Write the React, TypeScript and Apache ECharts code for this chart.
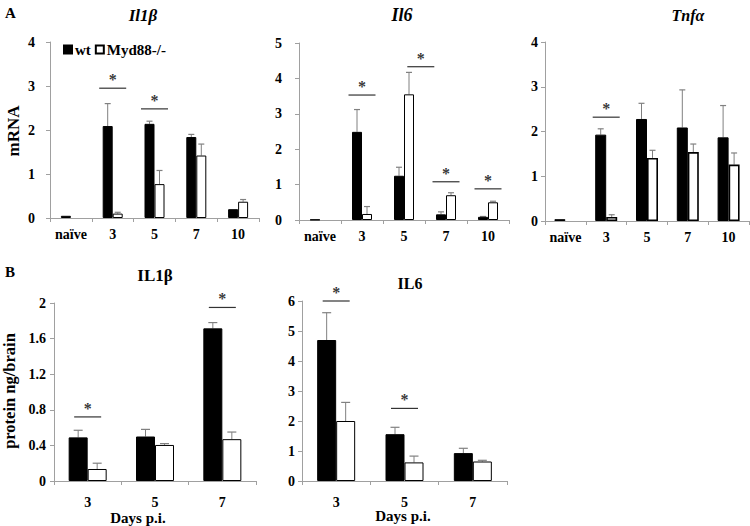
import React, { useEffect, useRef } from "react";
import * as echarts from "echarts";

// ---- data ----
const catsA = ["naïve", "3", "5", "7", "10"];
const catsB = ["3", "5", "7"];

const il1bWt = [0.05, 2.09, 2.14, 1.84, 0.2];
const il1bWtSd = [0, 0.51, 0.06, 0.06, 0];
const il1bKo = [null, 0.1, 0.77, 1.42, 0.37];
const il1bKoSd = [0, 0.03, 0.31, 0.26, 0.05];

const il6Wt = [0.01, 2.49, 1.25, 0.16, 0.09];
const il6WtSd = [0, 0.63, 0.24, 0.07, 0.01];
const il6Ko = [null, 0.17, 3.55, 0.7, 0.5];
const il6KoSd = [0, 0.21, 0.62, 0.07, 0.03];

const tnfWt = [0.04, 1.93, 2.28, 2.09, 1.87];
const tnfWtSd = [0, 0.13, 0.35, 0.84, 0.71];
const tnfKo = [null, 0.09, 1.41, 1.54, 1.26];
const tnfKoSd = [0, 0.05, 0.17, 0.18, 0.26];

const il1bPWt = [0.49, 0.5, 1.715];
const il1bPWtSd = [0.08, 0.08, 0.065];
const il1bPKo = [0.135, 0.405, 0.47];
const il1bPKoSd = [0.065, 0.015, 0.08];

const il6PWt = [4.7, 1.56, 0.93];
const il6PWtSd = [0.91, 0.23, 0.16];
const il6PKo = [2.0, 0.62, 0.65];
const il6PKoSd = [0.62, 0.21, 0.04];

// significance markers: [category index, line level, shift in bands]
const sigIl1b = [[1, 2.95, 0], [2, 2.48, 0]];
const sigIl6 = [[1, 3.53, 0], [2, 4.33, 0.4], [3, 1.08, 0], [4, 0.88, 0]];
const sigTnf = [[1, 2.32, 0]];
const sigIl1bP = [[0, 0.72, 0], [2, 1.95, 0]];
const sigIl6P = [[0, 6.0, 0], [1, 2.42, 0]];

const FONT = "'Liberation Serif', 'Times New Roman', serif";
const AXIS_COLOR = "#a0a0a0";
const ERR_COLOR = "#808080";

export default function App() {
  const ref = useRef<HTMLDivElement>(null);

  useEffect(() => {
    if (!ref.current) return;
    const chart = echarts.init(ref.current, null, { renderer: "svg" });

    const panels = [
      { left: 50, top: 42, width: 209, height: 176, cats: catsA, max: 4, interval: 1, margin: 15, bw: 10, cap: 6, wt: il1bWt, wtSd: il1bWtSd, ko: il1bKo, koSd: il1bKoSd, sig: sigIl1b, koBorder: 1, labelMargin: 9, sigW: 27 },
      { left: 299, top: 43, width: 210, height: 177, cats: catsA, max: 5, interval: 1, margin: 17, bw: 10, cap: 6, wt: il6Wt, wtSd: il6WtSd, ko: il6Ko, koSd: il6KoSd, sig: sigIl6, koBorder: 1, labelMargin: 9, sigW: 27 },
      { left: 545, top: 42, width: 204, height: 179, cats: catsA, max: 4, interval: 1, margin: 7, bw: 11, cap: 6, wt: tnfWt, wtSd: tnfWtSd, ko: tnfKo, koSd: tnfKoSd, sig: sigTnf, koBorder: 1.6, labelMargin: 9, sigW: 27 },
      { left: 54, top: 303, width: 202, height: 178, cats: catsB, max: 2, interval: 0.4, margin: 8, bw: 19, cap: 9, wt: il1bPWt, wtSd: il1bPWtSd, ko: il1bPKo, koSd: il1bPKoSd, sig: sigIl1bP, koBorder: 1, labelMargin: 14, sigW: 27 },
      { left: 302, top: 301, width: 205, height: 180, cats: catsB, max: 6, interval: 1, margin: 7, bw: 19, cap: 9, wt: il6PWt, wtSd: il6PWtSd, ko: il6PKo, koSd: il6PKoSd, sig: sigIl6P, koBorder: 1, labelMargin: 14, sigW: 27 },
    ];

    const labelStyle = { fontFamily: FONT, fontWeight: "bold" as const, fontSize: 14, color: "#000" };

    const grid: any[] = [];
    const xAxis: any[] = [];
    const yAxis: any[] = [];
    const series: any[] = [];

    panels.forEach((p, i) => {
      grid.push({ left: p.left, top: p.top, width: p.width, height: p.height, containLabel: false });
      xAxis.push({
        type: "category",
        gridIndex: i,
        data: p.cats,
        axisLine: { lineStyle: { color: AXIS_COLOR, width: 1 } },
        axisTick: { show: true, length: 4, lineStyle: { color: AXIS_COLOR } },
        axisLabel: { ...labelStyle, margin: p.labelMargin, interval: 0 },
      });
      yAxis.push({
        type: "value",
        gridIndex: i,
        min: 0,
        max: p.max,
        interval: p.interval,
        splitLine: { show: false },
        axisLine: { show: true, lineStyle: { color: AXIS_COLOR, width: 1 } },
        axisTick: { show: true, length: 4, lineStyle: { color: AXIS_COLOR } },
        axisLabel: { ...labelStyle, margin: p.margin },
      });
      series.push({
        type: "bar",
        name: "wt",
        xAxisIndex: i,
        yAxisIndex: i,
        data: p.wt,
        barWidth: p.bw,
        barGap: "0%",
        itemStyle: { color: "#000", borderColor: "#000", borderWidth: 1 },
      });
      series.push({
        type: "bar",
        name: "Myd88-/-",
        xAxisIndex: i,
        yAxisIndex: i,
        data: p.ko,
        barWidth: p.bw,
        barGap: "0%",
        itemStyle: { color: "#fff", borderColor: "#000", borderWidth: p.koBorder },
      });
      const errSeries = (vals: any[], sds: number[], dir: number) => ({
        type: "custom",
        xAxisIndex: i,
        yAxisIndex: i,
        silent: true,
        z: 1,
        itemStyle: { color: ERR_COLOR },
        data: vals.map((v, k) => [k, v == null ? 0 : v, sds[k]]),
        renderItem: (params: any, api: any) => {
          const idx = api.value(0);
          const v = api.value(1);
          const sd = api.value(2);
          if (!sd) return null;
          const base = api.coord([idx, v]);
          const top = api.coord([idx, v + sd]);
          const x = base[0] + (dir * p.bw) / 2;
          return {
            type: "group",
            children: [
              { type: "line", shape: { x1: x, y1: base[1], x2: x, y2: top[1] }, style: { stroke: ERR_COLOR, lineWidth: 1 } },
              { type: "line", shape: { x1: x - p.cap / 2, y1: top[1], x2: x + p.cap / 2, y2: top[1] }, style: { stroke: ERR_COLOR, lineWidth: 1.2 } },
            ],
          };
        },
      });
      series.push(errSeries(p.wt, p.wtSd, -1));
      series.push(errSeries(p.ko, p.koSd, 1));
      // significance lines
      series.push({
        type: "custom",
        xAxisIndex: i,
        yAxisIndex: i,
        silent: true,
        clip: false,
        itemStyle: { color: "#333" },
        data: p.sig,
        renderItem: (params: any, api: any) => {
          const idx = api.value(0);
          const lvl = api.value(1);
          const shift = api.value(2);
          const band = api.size([1, 0])[0];
          const c = api.coord([idx, lvl]);
          const cx = c[0] + shift * band;
          return { type: "line", shape: { x1: cx - p.sigW / 2, y1: c[1], x2: cx + p.sigW / 2, y2: c[1] }, style: { stroke: "#333", lineWidth: 1.2 } };
        },
      });
      // significance stars
      const band = p.width / p.cats.length;
      series.push({
        type: "scatter",
        xAxisIndex: i,
        yAxisIndex: i,
        silent: true,
        symbolSize: 1,
        itemStyle: { color: "rgba(0,0,0,0)" },
        clip: false,
        data: p.sig.map((s) => ({
          value: [s[0], s[1]],
          label: { offset: [s[2] * band, 0] },
        })),
        label: {
          show: true,
          formatter: "*",
          position: "top",
          distance: 0,
          color: "#000",
          fontFamily: FONT,
          fontSize: 16,
          fontWeight: "bold",
        },
      });
    });

    const titleStyle = (italic: boolean, size = 16) => ({
      fontFamily: FONT,
      fontWeight: "bold",
      fontStyle: italic ? "italic" : "normal",
      fontSize: size,
      fill: "#000",
      align: "center",
      verticalAlign: "middle",
    });

    const graphic: any[] = [
      { type: "text", x: 5, y: 13, style: { text: "A", fontFamily: FONT, fontWeight: "bold", fontSize: 15, fill: "#000", verticalAlign: "middle" } },
      { type: "text", x: 5, y: 272, style: { text: "B", fontFamily: FONT, fontWeight: "bold", fontSize: 15, fill: "#000", verticalAlign: "middle" } },
      { type: "text", x: 143, y: 15, style: { text: "Il1β", ...titleStyle(true, 17) } },
      { type: "text", x: 402, y: 15, style: { text: "Il6", ...titleStyle(true, 18) } },
      { type: "text", x: 688, y: 15, style: { text: "Tnfα", ...titleStyle(true, 16) } },
      { type: "text", x: 155, y: 275, style: { text: "IL1β", ...titleStyle(false, 17) } },
      { type: "text", x: 410, y: 283, style: { text: "IL6", ...titleStyle(false, 16) } },
      { type: "text", x: 13, y: 131, rotation: Math.PI / 2, style: { text: "mRNA", ...titleStyle(false, 17) } },
      { type: "text", x: 9, y: 391, rotation: Math.PI / 2, style: { text: "protein ng/brain", ...titleStyle(false, 16.5) } },
      { type: "text", x: 138, y: 518, style: { text: "Days p.i.", ...titleStyle(false, 15) } },
      { type: "text", x: 403, y: 516, style: { text: "Days p.i.", ...titleStyle(false, 15) } },
    ];

    chart.setOption({
      animation: false,
      backgroundColor: "#fff",
      grid,
      xAxis,
      yAxis,
      series,
      graphic,
      legend: {
        left: 58,
        top: 37,
        itemWidth: 8,
        itemHeight: 8,
        itemGap: 4,
        icon: "rect",
        data: ["wt", "Myd88-/-"],
        textStyle: { fontFamily: FONT, fontWeight: "bold", fontSize: 15, color: "#000", padding: [0, 0, 0, -2] },
      },
    });

    return () => chart.dispose();
  }, []);

  return <div ref={ref} style={{ width: 750, height: 526, position: "absolute", left: 0, top: 0 }} />;
}
